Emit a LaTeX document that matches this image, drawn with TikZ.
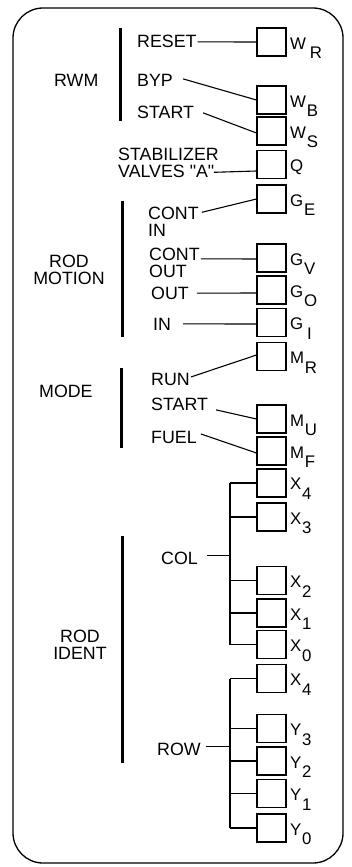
\documentclass[tikz,border=0pt]{standalone}
\usepackage{fontspec}
\setmainfont{Liberation Sans}
\usetikzlibrary{calc}
\newcommand{\lowsub}[1]{\kern0.8pt\raisebox{-9.5pt}{#1}}
\begin{document}
\begin{tikzpicture}[x=1pt,y=-1pt,
  txt/.style={font=\fontsize{17.8}{17}\selectfont, inner sep=0pt, anchor=base west},
  mtxt/.style={font=\fontsize{17.8}{17}\selectfont, inner sep=0pt, anchor=north west, align=left},
  ctxt/.style={font=\fontsize{17.8}{16.5}\selectfont, inner sep=0pt, anchor=north, align=center},
  box/.style={draw, minimum width=29pt, minimum height=28pt, inner sep=0pt, line width=1.1pt},
  lab/.style={font=\fontsize{16.8}{16.8}\selectfont, inner sep=0pt, anchor=base west},
  bar/.style={line width=3pt},
  conn/.style={line width=1.1pt}]
\useasboundingbox (0,0) rectangle (352,867);
\draw[line width=1.3pt, rounded corners=30pt] (13,8) rectangle (343,863);

% boxes
\foreach \n/\c in {wr/42, wb/100, ws/131, q/164.5, ge/199, gv/258, go/290, gi/322.5,
  mr/356.5, mu/419, mf/451, xa/483, xc/517, xb/580.5, xe/613, xd/644.5,
  xf/678.5, yc/728.5, yb/761, ya/793.5, yo/828}
  \node[box] (\n) at (271.5,\c) {};

% box labels
\node[lab] (lwr) at (290,49) {W\kern3pt\lowsub{R}};
\node[lab] (lwb) at (290,107) {W\lowsub{B}};
\node[lab] (lws) at (290,138) {W\lowsub{S}};
\node[lab] (lq) at (290,171.5) {Q};
\node[lab] (lge) at (290,206) {G\lowsub{E}};
\node[lab] (lgv) at (290,265) {G\lowsub{V}};
\node[lab] (lgo) at (290,297) {G\lowsub{O}};
\node[lab] (lgi) at (290,329.5) {G\kern3pt\lowsub{I}};
\node[lab] (lmr) at (290,363.5) {M\lowsub{R}};
\node[lab] (lmu) at (290,426) {M\lowsub{U}};
\node[lab] (lmf) at (290,458) {M\lowsub{F}};
\node[lab] (lxa) at (290,489.5) {X\lowsub{4}};
\node[lab] (lxc) at (290,524) {X\lowsub{3}};
\node[lab] (lxb) at (290,587.5) {X\lowsub{2}};
\node[lab] (lxe) at (290,620) {X\lowsub{1}};
\node[lab] (lxd) at (290,651.5) {X\lowsub{0}};
\node[lab] (lxf) at (290,685.5) {X\lowsub{4}};
\node[lab] (lyc) at (290,735.5) {Y\lowsub{3}};
\node[lab] (lyb) at (290,768) {Y\lowsub{2}};
\node[lab] (lya) at (290,800.5) {Y\lowsub{1}};
\node[lab] (lyo) at (290,835) {Y\lowsub{0}};

% group labels and bars
\node[txt] (rwm) at (54,86) {RWM};
\draw[bar] (120,28) -- (120,121);
\node[ctxt] (rodm) at (69,255) {ROD\\MOTION};
\draw[bar] (122,200.7) -- (122,336.7);
\node[txt] (mode) at (39,397) {MODE};
\draw[bar] (121,368) -- (121,448);
\node[ctxt] (rodi) at (80,630) {ROD\\IDENT};
\draw[bar] (122,536) -- (122,763);

% signal texts
\node[txt] (reset) at (137,48) {RESET};
\node[txt] (byp) at (137,86) {BYP};
\node[txt] (start) at (137,118) {START};
\node[mtxt] (stab) at (118,148.3) {STABILIZER\\VALVES \textquotedbl A\textquotedbl};
\node[mtxt] (cin) at (148,207.3) {CONT\\IN};
\node[mtxt] (cout) at (149,248.3) {CONT\\OUT};
\node[txt] (out) at (151,299.3) {OUT};
\node[txt] (in) at (153,330) {IN};
\node[txt] (run) at (151,385) {RUN};
\node[txt] (mstart) at (151,410) {START};
\node[txt] (fuel) at (151,443) {FUEL};
\node[txt] (col) at (161,564.3) {COL};
\node[txt] (row) at (157,755) {ROW};

% connectors
\draw[conn] ($(reset.east)+(1,0)$) -- (wr.west);
\draw[conn] ($(byp.east)+(10,-1)$) -- (wb.west);
\draw[conn] ($(start.east)+(9,1)$) -- ($(ws.west)+(0,2)$);
\draw[conn] ($(stab.south east)+(-5,-6)$) -- ($(q.west)+(0,6.5)$);
\draw[conn] ($(cin.north east)+(3,5)$) -- (ge.west);
\draw[conn] ($(cout.north east)+(1,10.5)$) -- ($(gv.west)+(0,1)$);
\draw[conn] ($(out.east)+(8,0)$) -- ($(go.west)+(0,3)$);
\draw[conn] ($(in.east)+(12,0)$) -- ($(gi.west)+(0,1.5)$);
\draw[conn] ($(run.east)+(1,-2)$) -- ($(mr.west)+(0,-1.5)$);
\draw[conn] ($(mstart.east)+(8,6)$) -- (mu.west);
\draw[conn] ($(fuel.east)+(4,-3)$) -- ($(mf.west)+(0,2)$);

% column tree
\coordinate (ct) at (230,0);
\draw[conn] (ct |- xa.west) -- (ct |- xd.west);
\foreach \b in {xa,xc,xb,xe,xd}
  \draw[conn] (ct |- \b.west) -- (\b.west);
\coordinate (colend) at ($(col.east)+(9,-2.5)$);
\draw[conn] (colend) -- (colend -| ct);

% row tree
\draw[conn] (ct |- xf.west) -- (ct |- yo.west);
\foreach \b in {xf,yc,yb,ya,yo}
  \draw[conn] (ct |- \b.west) -- (\b.west);
\coordinate (rowend) at ($(row.east)+(5,-2.5)$);
\draw[conn] (rowend) -- (rowend -| ct);
\end{tikzpicture}
\end{document}
